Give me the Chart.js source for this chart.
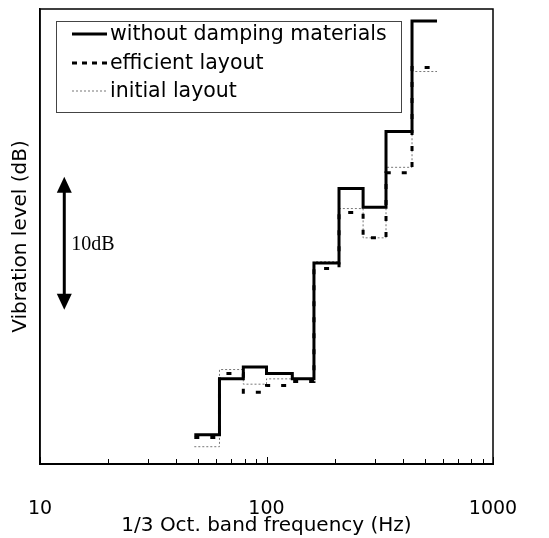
<!DOCTYPE html>
<html>
<head>
<meta charset="utf-8">
<script src="https://cdn.jsdelivr.net/npm/chart.js@4.4.1/dist/chart.umd.min.js"></script>
<style>
  html, body { margin: 0; padding: 0; background: #fff; }
</style>
</head>
<body>
<canvas id="chart" width="549" height="538"></canvas>
<script>
// band edges in Hz where the level steps
const bandEdges = [48, 62, 79, 100, 130, 162, 209, 267, 337, 439, 566];
// level per band, dB on an arbitrary reference
const withoutDamping = [32.2, 36.4, 37.3, 36.8, 36.4, 45.1, 50.7, 49.3, 55.0, 63.3];
const efficientLayout = [32.0, 36.8, 35.4, 35.9, 36.2, 44.7, 48.9, 47.0, 51.9, 59.8];
const initialLayout = [31.3, 37.1, 36.0, 36.4, 36.4, 45.2, 49.2, 47.0, 52.3, 59.5];

const xTickValues = [10, 20, 30, 40, 50, 60, 70, 80, 90, 100, 200, 300, 400, 500, 600, 700, 800, 900, 1000];
const xLabels = [10, 100, 1000];

// 10 dB scale arrow
const arrowFreq = 12.8;
const arrowTop = 51.6;
const arrowSpan = 10;

const steps = levels => {
	const pts = levels.map((v, i) => ({ x: bandEdges[i], y: v }));
	pts.push({ x: bandEdges[bandEdges.length - 1], y: levels[levels.length - 1] });
	return pts;
};

const sans = 'DejaVu Sans';

// frame, inner ticks, legend box and the 10dB arrow
const extras = {
	id: 'extras',
	afterDraw(chart) {
		const ctx = chart.ctx;
		const a = chart.chartArea;
		const xs = chart.scales.x, ys = chart.scales.y;
		ctx.save();

		// frame
		ctx.strokeStyle = '#000';
		ctx.lineWidth = 1.5;
		ctx.strokeRect(a.left, a.top, a.right - a.left, a.bottom - a.top);

		// tick marks pointing inward
		ctx.lineWidth = 1;
		xTickValues.forEach(v => {
			const px = Math.round(xs.getPixelForValue(v)) + 0.5;
			const len = xLabels.includes(v) ? 7 : 5;
			ctx.beginPath();
			ctx.moveTo(px, a.bottom);
			ctx.lineTo(px, a.bottom - len);
			ctx.stroke();
		});

		// legend
		const lx = 56, ly = 21, lw = 345, lh = 91;
		ctx.strokeStyle = '#444';
		ctx.lineWidth = 1;
		ctx.strokeRect(lx + 0.5, ly + 0.5, lw, lh);
		const rows = [34, 63, 91];
		ctx.font = '20.5px "' + sans + '"';
		ctx.textBaseline = 'middle';
		ctx.fillStyle = '#000';
		chart.data.datasets.forEach((ds, i) => {
			ctx.save();
			ctx.strokeStyle = ds.borderColor;
			ctx.lineWidth = ds.borderWidth;
			ctx.setLineDash(i === 1 ? [5, 5] : (ds.borderDash || []));
			ctx.beginPath();
			ctx.moveTo(72, rows[i]);
			ctx.lineTo(107, rows[i]);
			ctx.stroke();
			ctx.restore();
			ctx.fillText(ds.label, 110, rows[i] + 1);
		});

		// 10dB arrow
		const ax = xs.getPixelForValue(arrowFreq);
		const yT = ys.getPixelForValue(arrowTop);
		const yB = ys.getPixelForValue(arrowTop - arrowSpan);
		ctx.strokeStyle = '#000';
		ctx.fillStyle = '#000';
		ctx.lineWidth = 3;
		ctx.beginPath();
		ctx.moveTo(ax, yT + 10);
		ctx.lineTo(ax, yB - 10);
		ctx.stroke();
		ctx.beginPath();
		ctx.moveTo(ax, yT);
		ctx.lineTo(ax - 7.5, yT + 16);
		ctx.lineTo(ax + 7.5, yT + 16);
		ctx.closePath();
		ctx.fill();
		ctx.beginPath();
		ctx.moveTo(ax, yB);
		ctx.lineTo(ax - 7.5, yB - 16);
		ctx.lineTo(ax + 7.5, yB - 16);
		ctx.closePath();
		ctx.fill();
		ctx.font = '20px "Liberation Serif"';
		ctx.textBaseline = 'alphabetic';
		ctx.fillText('10dB', ax + 7, (yT + yB) / 2 + 7);

		ctx.restore();
	}
};

new Chart(document.getElementById('chart').getContext('2d'), {
	type: 'line',
	data: {
		datasets: [{
			label: 'without damping materials',
			data: steps(withoutDamping),
			borderColor: '#000',
			borderWidth: 3,
			stepped: 'before',
			pointRadius: 0
		}, {
			label: 'efficient layout',
			data: steps(efficientLayout),
			borderColor: '#000',
			borderWidth: 3,
			borderDash: [5, 11],
			stepped: 'before',
			pointRadius: 0
		}, {
			label: 'initial layout',
			data: steps(initialLayout),
			borderColor: '#777',
			borderWidth: 1,
			borderDash: [2, 2],
			stepped: 'before',
			pointRadius: 0
		}]
	},
	options: {
		responsive: false,
		animation: false,
		layout: { padding: { top: 9, right: 56, left: 0, bottom: 0 } },
		plugins: {
			legend: { display: false },
			tooltip: { enabled: false }
		},
		scales: {
			x: {
				type: 'logarithmic',
				min: 10,
				max: 1000,
				grid: { display: false, drawTicks: false },
				border: { display: true, color: '#000', width: 2 },
				afterBuildTicks: s => { s.ticks = xTickValues.map(v => ({ value: v })); },
				ticks: {
					autoSkip: false,
					maxRotation: 0,
					padding: 34,
					color: '#000',
					font: { family: sans, size: 19 },
					callback: v => xLabels.includes(v) ? String(v) : ''
				},
				title: {
					display: true,
					text: '1/3 Oct. band frequency (Hz)',
					color: '#000',
					font: { family: sans, size: 20 },
					padding: { top: 0, bottom: 0 }
				},
				afterFit: s => {
					s.height = 74;
					s.paddingLeft = 0;
					s.paddingRight = 0;
				}
			},
			y: {
				min: 30,
				max: 64.2,
				grid: { display: false, drawTicks: false },
				border: { display: true, color: '#000', width: 1.5 },
				ticks: { display: false },
				title: {
					display: true,
					text: 'Vibration level (dB)',
					color: '#000',
					font: { family: sans, size: 20 },
					padding: { top: 9, bottom: 0 }
				},
				afterFit: s => { s.width = 40; }
			}
		}
	},
	plugins: [extras]
});
</script>
</body>
</html>
